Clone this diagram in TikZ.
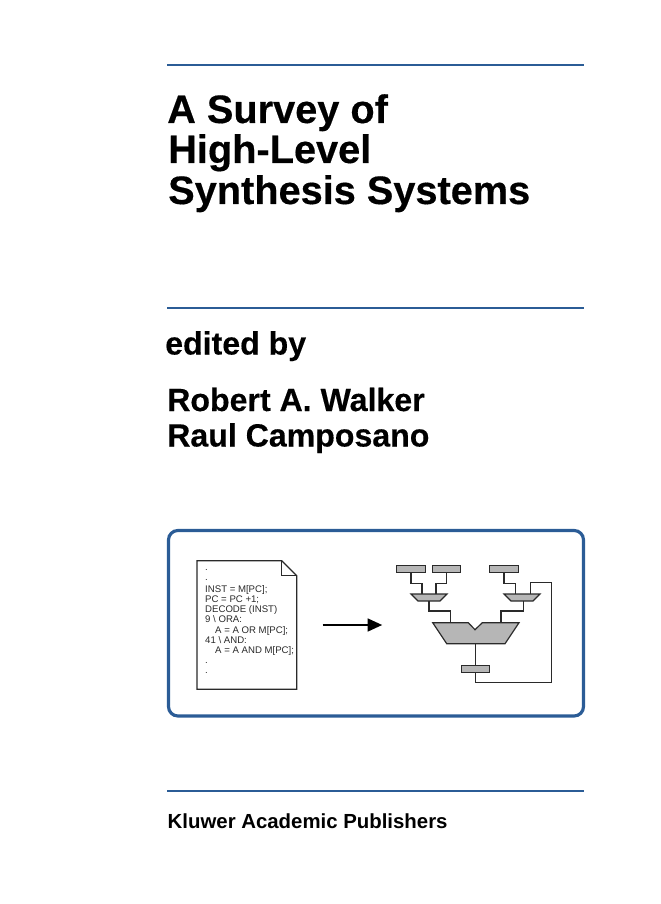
\documentclass[tikz,border=0pt]{standalone}
\usepackage{fontspec}
\setmainfont{Liberation Sans}
\usetikzlibrary{arrows.meta}
\definecolor{rulecol}{HTML}{2B5C96}
\definecolor{fillcol}{HTML}{B6B6B6}
\definecolor{linecol}{HTML}{2A2A2A}
\tikzset{
  titletext/.style={anchor=base west,inner sep=0pt,font=\fontsize{33.9}{34}\selectfont\bfseries\addfontfeature{FakeBold=0.4}},
  nametext/.style={anchor=base west,inner sep=0pt,font=\fontsize{27.4}{28}\selectfont\bfseries\addfontfeature{FakeBold=0.3}},
  pubtext/.style={anchor=base west,inner sep=0pt,font=\fontsize{17.4}{18}\selectfont\bfseries},
  listtext/.style={anchor=base west,inner sep=0pt,text=linecol,font=\fontsize{8.2}{8.2}\selectfont},
  bluerule/.style={rulecol,line width=1.9pt},
  reg/.style={draw=linecol,fill=fillcol,line width=0.8pt,minimum width=24pt,minimum height=5.6pt,inner sep=0pt},
  block/.style={draw=linecol,fill=fillcol,line width=1pt},
  wire/.style={draw=linecol,line width=0.9pt}
}
\begin{document}
\begin{tikzpicture}[x=0.03cm,y=-0.03cm]
\useasboundingbox (0,0) rectangle (660,904);
% rules and frame
\draw[bluerule] (167,65)--(584,65);
\draw[bluerule] (167,308)--(584,308);
\draw[bluerule] (167,791)--(584,791);
\draw[rulecol,line width=2.7pt,rounded corners=8pt] (168.5,530.5) rectangle (583.5,716);
% texts
\node[titletext] (title1) at (167,123) {A Survey of};
\node[titletext] (title2) at (168,163) {High-Level};
\node[titletext] (title3) at (168,204) {Synthesis Systems};
\node[nametext] (editor) at (165,354.5) {edited by};
\node[nametext] (name1) at (167,411) {Robert A. Walker};
\node[nametext] (name2) at (167,446.5) {Raul Camposano};
\node[pubtext] (publisher) at (167.5,828) {Kluwer Academic Publishers};
% program sheet
\draw[linecol,line width=1pt,fill=white] (197,560.7)--(281.7,560.7)--(296.7,575.7)--(296.7,689.3)--(197,689.3)--cycle;
\draw[linecol,line width=1pt] (281.7,560.7)--(281.7,575.7)--(296.7,575.7);
\node[listtext] (dota) at (205,570) {.};
\node[listtext] (dotb) at (205,580) {.};
\node[listtext] (line1) at (205,592) {INST = M[PC];};
\node[listtext] (line2) at (205,602) {PC = PC +1;};
\node[listtext] (line3) at (205,612.5) {DECODE (INST)};
\node[listtext] (line4) at (205,622.8) {9 \textbackslash\ ORA:};
\node[listtext] (line5) at (215,633.2) {A = A OR M[PC];};
\node[listtext] (line6) at (205,643.5) {41 \textbackslash\ AND:};
\node[listtext] (line7) at (215,653.8) {A = A AND M[PC];};
\node[listtext] (dotc) at (205,663) {.};
\node[listtext] (dotd) at (205,673) {.};
\coordinate (from) at (322.7,625);
\coordinate (to) at (382.3,625);
\draw[-{Triangle[length=12.5pt,width=10.8pt]},line width=2.2pt] (from)--(to);
% datapath
\node[reg] (rega) at (411,569) {};
\node[reg] (regb) at (446.5,569) {};
\node[reg] (regc) at (504,569) {};
\node[reg] (regd) at (475.5,669) {};
\draw[block] (411,594)--(447,594)--(440,601)--(418,601)--cycle;
\draw[block] (504,594)--(540,594)--(533,601)--(511,601)--cycle;
\draw[block] (432.7,622.7)--(468.3,622.7)--(475,629.7)--(482.3,622.7)--(519,622.7)--(505,643.7)--(446.7,643.7)--cycle;
\coordinate (alua) at (450.7,622.7);
\coordinate (alub) at (501,622.7);
\coordinate (aluc) at (475.5,643.7);
\coordinate (muxaa) at (422,594);
\coordinate (muxab) at (436,594);
\coordinate (muxac) at (429,601);
\coordinate (muxba) at (515.7,594);
\coordinate (muxbb) at (530.3,594);
\coordinate (muxbc) at (523.3,601);
\coordinate (upper) at (0,583.3);
\coordinate (middle) at (0,611);
\draw[wire] (rega.south)--(rega.south |- upper)-|(muxaa);
\draw[wire] (regb.south)--(regb.south |- upper)-|(muxab);
\draw[wire] (regc.south)--(regc.south |- upper)-|(muxba);
\draw[wire] (muxac)--(muxac |- middle)-|(alua);
\draw[wire] (muxbc)--(muxbc |- middle)-|(alub);
\draw[wire] (aluc)--(regd.north);
\draw[wire] (regd.south)--(475.5,682.3)--(551.7,682.3)--(551.7,582.7)--(530.3,582.7)--(muxbb);
\end{tikzpicture}
\end{document}
